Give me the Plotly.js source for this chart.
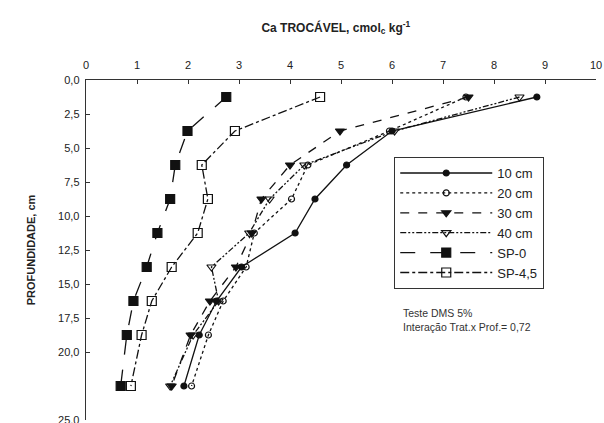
<!DOCTYPE html>
<html>
<head>
<meta charset="utf-8">
<script src="https://cdn.plot.ly/plotly-3.0.1.min.js"></script>
<style>html,body{margin:0;padding:0;background:#fff;}#chart{width:604px;height:423px;}</style>
</head>
<body>
<div id="chart"></div>
<script>
// Depth of each sampled layer (cm)
const depths = [1.25, 3.75, 6.25, 8.75, 11.25, 13.75, 16.25, 18.75, 22.5];
// Exchangeable Ca (cmolc/kg) per treatment
const ca10 = [8.84, 6.00, 5.11, 4.49, 4.10, 3.05, 2.56, 2.22, 1.92];
const ca20 = [7.45, 5.95, 4.35, 4.03, 3.30, 3.14, 2.69, 2.40, 2.07];
const ca30 = [7.50, 4.98, 4.00, 3.44, 3.25, 2.94, 2.43, 2.05, 1.68];
const ca40 = [8.50, 6.05, 4.28, 3.60, 3.20, 2.46, 2.60, 2.10, 1.65];
const sp0  = [2.75, 1.99, 1.75, 1.65, 1.40, 1.19, 0.93, 0.80, 0.68];
const sp45 = [4.59, 2.92, 2.27, 2.39, 2.19, 1.68, 1.29, 1.09, 0.88];
const seriesNames = ['10 cm', '20 cm', '30 cm', '40 cm', 'SP-0', 'SP-4,5'];
const xTicks = [0,1,2,3,4,5,6,7,8,9,10];
const yTickVals = [0, 2.5, 5, 7.5, 10, 12.5, 15, 17.5, 20, 25];
const yTickText = ['0,0','2,5','5,0','7,5','10,0','12,5','15,0','17,5','20,0','25,0'];

const styles = [
  {dash:'solid', symbol:'circle', size:6},
  {dash:'dot', symbol:'circle-open', size:6},
  {dash:'dash', symbol:'triangle-down', size:8},
  {dash:'6px,2px,2px,2px,2px,2px', symbol:'triangle-down-open', size:8},
  {dash:'longdash', symbol:'square', size:9},
  {dash:'dashdot', symbol:'square-open', size:9}
];
const vals = [ca10, ca20, ca30, ca40, sp0, sp45];

const traces = vals.map((v, i) => ({
  x: v, y: depths, name: seriesNames[i], type: 'scatter', mode: 'lines+markers',
  line: {color: '#111', width: 1.3, dash: styles[i].dash},
  marker: {symbol: styles[i].symbol, size: styles[i].size, color: '#111',
           line: {color: '#111', width: 1.2}}
}));

const layout = {
  width: 604, height: 423,
  margin: {l: 86, r: 8, t: 80, b: 3},
  paper_bgcolor: '#fff', plot_bgcolor: '#fff',
  font: {family: 'Liberation Sans, Arial, sans-serif', color: '#222', size: 11},
  title: {text: 'Ca TROCÁVEL, cmol<sub>c</sub> kg<sup>-1</sup>', x: 0.556, xanchor: 'center',
          y: 0.935, yanchor: 'middle', font: {size: 12, weight: 'bold', color: '#222'}},
  xaxis: {side: 'top', range: [0, 10], tickvals: xTicks, ticks: 'inside', ticklen: 4,
          tickcolor: '#333', showline: true, linecolor: '#333', linewidth: 1.3,
          ticklabelstandoff: 5,
          showgrid: false, zeroline: false, tickfont: {size: 11, color: '#222'}},
  yaxis: {range: [25, 0], tickvals: yTickVals, ticktext: yTickText, ticks: 'inside', ticklen: 4,
          tickcolor: '#333', showline: true, linecolor: '#333', linewidth: 1.3,
          ticklabelstandoff: 3, ticklabeloverflow: 'allow',
          showgrid: false, zeroline: false, tickfont: {size: 11, color: '#222'},
          title: {text: 'PROFUNDIDADE, cm', standoff: 20, font: {size: 11, weight: 'bold', color: '#222'}}},
  showlegend: true,
  legend: {x: 0.604, y: 0.774, xanchor: 'left', yanchor: 'top', bgcolor: '#fff',
           bordercolor: '#333', borderwidth: 1.2, font: {size: 13, color: '#222'},
           itemwidth: 92, tracegroupgap: 0, entrywidth: 70},
  annotations: [
    {xref: 'paper', yref: 'paper', x: 0.617, y: 0.295, xanchor: 'left', yanchor: 'middle',
     showarrow: false, align: 'left', font: {size: 10.5, color: '#333'},
     text: 'Teste DMS 5%<br>Interação Trat.x Prof.= 0,72'}
  ]
};

Plotly.newPlot('chart', traces, layout, {displayModeBar: false, staticPlot: true});
</script>
</body>
</html>
